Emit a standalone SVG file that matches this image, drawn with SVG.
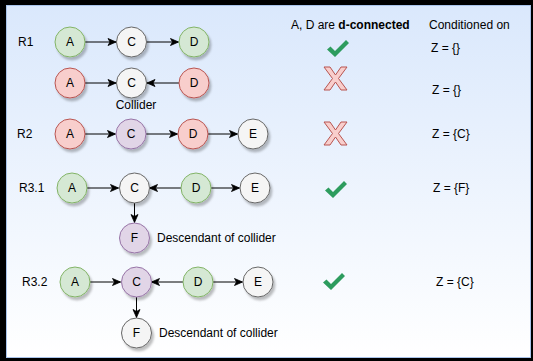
<svg xmlns="http://www.w3.org/2000/svg" width="533" height="361" viewBox="0 0 533 361">
<defs>
<linearGradient id="bg" x1="0" y1="0" x2="0" y2="1">
<stop offset="0" stop-color="#dae8fc"/>
<stop offset="1" stop-color="#ffffff"/>
</linearGradient>
<filter id="sh" x="-30%" y="-30%" width="160%" height="160%">
<feDropShadow dx="2" dy="3" stdDeviation="1.2" flood-color="#000" flood-opacity="0.25"/>
</filter>
<marker id="arr" markerWidth="10" markerHeight="10" refX="9" refY="5" orient="auto" markerUnits="userSpaceOnUse">
<path d="M1,1.5 L9,5 L1,8.5 L3,5 Z" fill="#000" stroke="#000" stroke-width="0.8"/>
</marker>
<path id="tick" d="M0,9.5 L3.5,6.5 L8,11 L19,0 L22,3 L8,17 Z"/>
<path id="ex" d="M0,0 L6,0 L11.5,8 L17,0 L23,0 L14.5,11.5 L23,23 L17,23 L11.5,15 L6,23 L0,23 L8.5,11.5 Z"/>
</defs>
<style>
text{font-family:"Liberation Sans",Arial,Helvetica,sans-serif;font-size:12px;fill:#000}
.c{stroke-width:1;filter:url(#sh)}
.g{fill:#d5e8d4;stroke:#82b366}
.r{fill:#f8cecc;stroke:#b85450}
.p{fill:#e1d5e7;stroke:#9673a6}
.w{fill:#f5f5f5;stroke:#666666}
.lbl{text-anchor:middle}
.e{stroke:#000;stroke-width:1;fill:none;marker-end:url(#arr)}
.tk{fill:#2d9c5e}
.x{fill:#f8cecc;stroke:#b85450;stroke-width:1}
</style>
<rect x="0" y="0" width="533" height="361" fill="#000"/>
<rect x="6.5" y="5.5" width="524" height="352" fill="url(#bg)" stroke="#a9c4eb" stroke-width="1" filter="url(#sh)"/>

<g id="connectors">
<line class="e" x1="85" y1="42" x2="116" y2="42"/>
<line class="e" x1="146.5" y1="42" x2="178.5" y2="42"/>
<line class="e" x1="85" y1="83" x2="116" y2="83"/>
<line class="e" x1="179" y1="83" x2="147" y2="83"/>
<line class="e" x1="85" y1="134" x2="115.5" y2="134"/>
<line class="e" x1="146" y1="134" x2="177.5" y2="134"/>
<line class="e" x1="208" y1="134" x2="237.5" y2="134"/>
<line class="e" x1="87" y1="188" x2="118.5" y2="188"/>
<line class="e" x1="181" y1="188" x2="149.5" y2="188"/>
<line class="e" x1="211" y1="188" x2="239.5" y2="188"/>
<line class="e" x1="134.5" y1="203" x2="134.5" y2="222.5"/>
<line class="e" x1="90" y1="282" x2="120.5" y2="282"/>
<line class="e" x1="183" y1="282" x2="151.5" y2="282"/>
<line class="e" x1="213" y1="282" x2="242.5" y2="282"/>
<line class="e" x1="136.5" y1="297" x2="136.5" y2="317.5"/>
</g>

<g id="row-labels">
<text x="18" y="46">R1</text>
<text x="17" y="138">R2</text>
<text x="19" y="192">R3.1</text>
<text x="22" y="286">R3.2</text>
</g>

<g id="r1-A"><circle class="c g" cx="70" cy="42" r="15"/><text class="lbl" x="70" y="46">A</text></g>
<g id="r1-C"><circle class="c w" cx="131.5" cy="42" r="15"/><text class="lbl" x="131.5" y="46">C</text></g>
<g id="r1-D"><circle class="c g" cx="194" cy="42" r="15"/><text class="lbl" x="194" y="46">D</text></g>

<g id="r1b-A"><circle class="c r" cx="70" cy="83" r="15"/><text class="lbl" x="70" y="87">A</text></g>
<g id="r1b-C"><circle class="c w" cx="131.5" cy="83" r="15"/><text class="lbl" x="131.5" y="87">C</text></g>
<g id="r1b-D"><circle class="c r" cx="194" cy="83" r="15"/><text class="lbl" x="194" y="87">D</text></g>
<g id="collider-label"><text class="lbl" x="136" y="109">Collider</text></g>

<g id="r2-A"><circle class="c r" cx="70" cy="134" r="15"/><text class="lbl" x="70" y="138">A</text></g>
<g id="r2-C"><circle class="c p" cx="131" cy="134" r="15"/><text class="lbl" x="131" y="138">C</text></g>
<g id="r2-D"><circle class="c r" cx="193" cy="134" r="15"/><text class="lbl" x="193" y="138">D</text></g>
<g id="r2-E"><circle class="c w" cx="253" cy="134" r="15"/><text class="lbl" x="253" y="138">E</text></g>

<g id="r31-A"><circle class="c g" cx="72" cy="188" r="15"/><text class="lbl" x="72" y="192">A</text></g>
<g id="r31-C"><circle class="c w" cx="134.5" cy="188" r="15"/><text class="lbl" x="134.5" y="192">C</text></g>
<g id="r31-D"><circle class="c g" cx="196" cy="188" r="15"/><text class="lbl" x="196" y="192">D</text></g>
<g id="r31-E"><circle class="c w" cx="255" cy="188" r="15"/><text class="lbl" x="255" y="192">E</text></g>
<g id="r31-F"><circle class="c p" cx="134.5" cy="238" r="15"/><text class="lbl" x="134.5" y="242">F</text><text x="157" y="242">Descendant of collider</text></g>

<g id="r32-A"><circle class="c g" cx="75" cy="282" r="15"/><text class="lbl" x="75" y="286">A</text></g>
<g id="r32-C"><circle class="c p" cx="136.5" cy="282" r="15"/><text class="lbl" x="136.5" y="286">C</text></g>
<g id="r32-D"><circle class="c g" cx="198" cy="282" r="15"/><text class="lbl" x="198" y="286">D</text></g>
<g id="r32-E"><circle class="c w" cx="258" cy="282" r="15"/><text class="lbl" x="258" y="286">E</text></g>
<g id="r32-F"><circle class="c w" cx="136.5" cy="333" r="15"/><text class="lbl" x="136.5" y="337">F</text><text x="159" y="337">Descendant of collider</text></g>

<g id="header">
<text x="291" y="29">A, D are <tspan font-weight="bold">d-connected</tspan></text>
<text x="429" y="29">Conditioned on</text>
</g>

<g id="results">
<use href="#tick" class="tk" x="327" y="40"/>
<use href="#ex" class="x" x="324" y="67"/>
<use href="#ex" class="x" x="324" y="122"/>
<use href="#tick" class="tk" x="325" y="181"/>
<use href="#tick" class="tk" x="323" y="273"/>
</g>

<g id="conditions">
<text x="431" y="52">Z = {}</text>
<text x="432" y="94">Z = {}</text>
<text x="432" y="138">Z = {C}</text>
<text x="433" y="192">Z = {F}</text>
<text x="436" y="286">Z = {C}</text>
</g>
</svg>
